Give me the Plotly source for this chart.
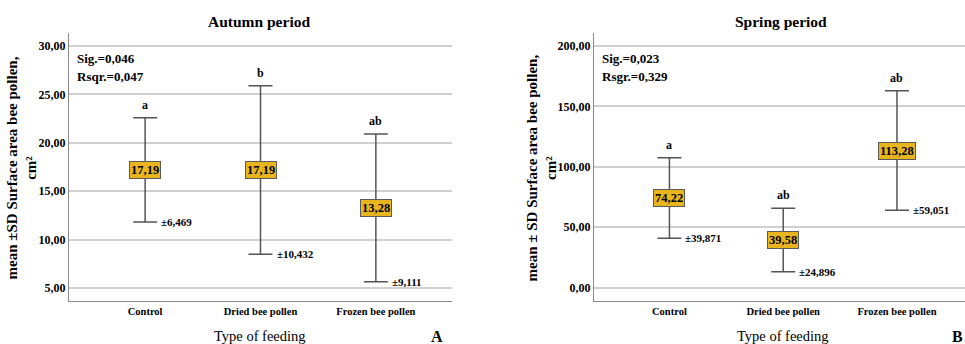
import plotly.graph_objects as go

categories = ["Control", "Dried bee pollen", "Frozen bee pollen"]

# Autumn period
autumn_means = [17.19, 17.19, 13.28]
autumn_upper = [22.59, 25.90, 20.91]
autumn_lower = [11.82, 8.48, 5.65]
autumn_mean_labels = ["17,19", "17,19", "13,28"]
autumn_sd_labels = ["±6,469", "±10,432", "±9,111"]
autumn_letters = ["a", "b", "ab"]
autumn_stats = ["Sig.=0,046", "Rsqr.=0,047"]

# Spring period
spring_means = [74.22, 39.58, 113.28]
spring_upper = [107.5, 65.8, 163.0]
spring_lower = [40.9, 13.3, 64.1]
spring_mean_labels = ["74,22", "39,58", "113,28"]
spring_sd_labels = ["±39,871", "±24,896", "±59,051"]
spring_letters = ["a", "ab", "ab"]
spring_stats = ["Sig.=0,023", "Rsgr.=0,329"]

SERIF = "Liberation Serif, Times New Roman, serif"
BAR_COLOR = "#555555"
BOX_FILL = "#E9B51E"
GRID = "#D0D0D0"
AXIS = "#8A8A8A"

fig = go.Figure()

panels = [
    dict(xa="x", ya="y", means=autumn_means, up=autumn_upper, lo=autumn_lower,
         ml=autumn_mean_labels, sd=autumn_sd_labels, let=autumn_letters, st=autumn_stats),
    dict(xa="x2", ya="y2", means=spring_means, up=spring_upper, lo=spring_lower,
         ml=spring_mean_labels, sd=spring_sd_labels, let=spring_letters, st=spring_stats),
]

annotations = []
for p in panels:
    plus = [u - m for u, m in zip(p["up"], p["means"])]
    minus = [m - l for m, l in zip(p["means"], p["lo"])]
    fig.add_trace(go.Scatter(
        x=categories, y=p["means"], xaxis=p["xa"], yaxis=p["ya"],
        mode="markers", marker=dict(size=1, color="rgba(0,0,0,0)"),
        error_y=dict(type="data", array=plus, arrayminus=minus, symmetric=False,
                     color=BAR_COLOR, thickness=1.5, width=12),
        showlegend=False, hoverinfo="skip",
    ))
    for i, c in enumerate(categories):
        annotations.append(dict(
            x=c, y=p["means"][i], xref=p["xa"], yref=p["ya"], text=p["ml"][i],
            showarrow=False, xanchor="center", yanchor="middle",
            bgcolor=BOX_FILL, bordercolor="#5a5a5a", borderwidth=1,
            borderpad=1, font=dict(family=SERIF, size=12.5, color="black", weight="bold"),
        ))
        annotations.append(dict(
            x=c, y=p["up"][i], xref=p["xa"], yref=p["ya"], text=p["let"][i],
            showarrow=False, xanchor="center", yanchor="bottom", yshift=4,
            font=dict(family=SERIF, size=12, color="black", weight="bold"),
        ))
        annotations.append(dict(
            x=c, y=p["lo"][i], xref=p["xa"], yref=p["ya"], text=p["sd"][i],
            showarrow=False, xanchor="left", yanchor="middle", xshift=14,
            font=dict(family=SERIF, size=11, color="black", weight="bold"),
        ))

for p, x0 in [(panels[0], 75), (panels[1], 600)]:
    for j, t in enumerate(p["st"]):
        annotations.append(dict(
            x=x0 / 965, y=1 - (58.5 + 18.5 * j) / 344, xref="paper", yref="paper",
            text=t, showarrow=False, xanchor="left", yanchor="middle",
            font=dict(family=SERIF, size=13, color="black", weight="bold"),
        ))

for t, xc in [("Autumn period", 259), ("Spring period", 781)]:
    annotations.append(dict(
        x=xc / 965, y=1 - 21 / 344, xref="paper", yref="paper", text=t,
        showarrow=False, xanchor="center", yanchor="middle",
        font=dict(family=SERIF, size=15.5, color="black", weight="bold"),
    ))

for t, xc in [("mean ±SD Surface area bee pollen,<br>cm²", 21.5),
              ("mean ± SD Surface area bee pollen,<br>cm²", 541.5)]:
    annotations.append(dict(
        x=xc / 965, y=1 - 168 / 344, xref="paper", yref="paper", text=t,
        textangle=-90, showarrow=False, xanchor="center", yanchor="middle",
        font=dict(family=SERIF, size=15, color="black", weight="bold"),
    ))

for xc in [260, 783]:
    annotations.append(dict(
        x=xc / 965, y=1 - 336 / 344, xref="paper", yref="paper", text="Type of feeding",
        showarrow=False, xanchor="center", yanchor="middle",
        font=dict(family=SERIF, size=14.5, color="black"),
    ))

for t, xc in [("A", 437), ("B", 957)]:
    annotations.append(dict(
        x=xc / 965, y=1 - 336 / 344, xref="paper", yref="paper", text=t,
        showarrow=False, xanchor="center", yanchor="middle",
        font=dict(family=SERIF, size=16, color="black", weight="bold"),
    ))

ydom = [(344 - 301) / 344, (344 - 33) / 344]
xcommon = dict(showgrid=False, showline=True, linecolor=AXIS, linewidth=1, ticks="",
               tickfont=dict(family=SERIF, size=10.5, color="black", weight="bold"),
               zeroline=False, fixedrange=True)
ycommon = dict(showgrid=True, gridcolor=GRID, gridwidth=1.5, showline=True, linecolor=AXIS,
               linewidth=1, ticks="", tickformat=".2f", zeroline=False,
               tickfont=dict(family=SERIF, size=12, color="black", weight="bold"))

fig.update_layout(
    width=965, height=344, margin=dict(l=0, r=0, t=0, b=0),
    paper_bgcolor="white", plot_bgcolor="white", separators=", ",
    showlegend=False,
    xaxis=dict(domain=[69 / 965, 452 / 965], range=[-0.66, 2.66], anchor="y", **xcommon),
    yaxis=dict(domain=ydom, range=[3.66, 31.34], tick0=5, dtick=5, anchor="x", **ycommon),
    xaxis2=dict(domain=[594 / 965, 1.0], range=[-0.663, 2.598], anchor="y2", **xcommon),
    yaxis2=dict(domain=ydom, range=[-11.0, 210.8], tick0=0, dtick=50, anchor="x2", **ycommon),
    annotations=annotations,
)

fig.write_html("out.html")
